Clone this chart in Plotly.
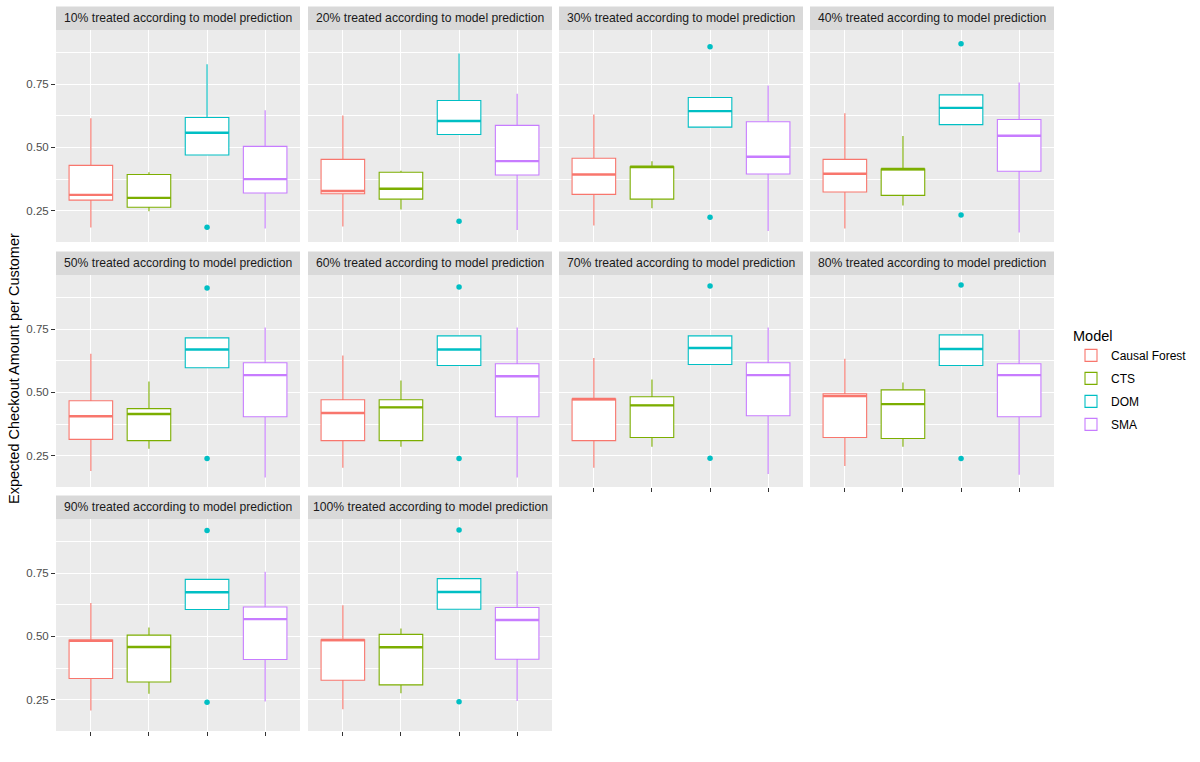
import plotly.graph_objects as go

# ---------------- data ----------------
panels = ["10%", "20%", "30%", "40%", "50%", "60%", "70%", "80%", "90%", "100%"]
models = ["Causal Forest", "CTS", "DOM", "SMA"]
colors = ["#F8766D", "#7CAE00", "#00BFC4", "#C77CFF"]

cf_q1 = [0.292, 0.317, 0.315, 0.324, 0.315, 0.310, 0.310, 0.322, 0.334, 0.327]
cf_med = [0.313, 0.328, 0.393, 0.396, 0.406, 0.419, 0.474, 0.486, 0.483, 0.486]
cf_q3 = [0.429, 0.453, 0.457, 0.453, 0.467, 0.471, 0.474, 0.495, 0.486, 0.487]
cf_lo = [0.184, 0.188, 0.192, 0.180, 0.190, 0.203, 0.203, 0.210, 0.208, 0.213]
cf_hi = [0.615, 0.626, 0.630, 0.635, 0.652, 0.646, 0.636, 0.633, 0.632, 0.623]

cts_q1 = [0.264, 0.296, 0.296, 0.311, 0.310, 0.310, 0.322, 0.318, 0.320, 0.309]
cts_med = [0.301, 0.337, 0.424, 0.415, 0.415, 0.441, 0.449, 0.454, 0.458, 0.457]
cts_q3 = [0.393, 0.402, 0.424, 0.415, 0.436, 0.471, 0.483, 0.510, 0.505, 0.508]
cts_lo = [0.248, 0.255, 0.260, 0.271, 0.278, 0.286, 0.286, 0.286, 0.274, 0.276]
cts_hi = [0.402, 0.408, 0.445, 0.545, 0.543, 0.547, 0.551, 0.539, 0.535, 0.531]

dom_q1 = [0.470, 0.551, 0.580, 0.590, 0.597, 0.606, 0.610, 0.606, 0.606, 0.607]
dom_med = [0.558, 0.604, 0.643, 0.656, 0.669, 0.669, 0.675, 0.671, 0.674, 0.675]
dom_q3 = [0.618, 0.685, 0.697, 0.707, 0.715, 0.723, 0.723, 0.727, 0.725, 0.728]
dom_lo = [0.470, 0.551, 0.580, 0.590, 0.597, 0.606, 0.610, 0.606, 0.606, 0.607]
dom_hi = [0.828, 0.870, 0.697, 0.707, 0.715, 0.723, 0.723, 0.727, 0.725, 0.728]
dom_out_low = [0.185, 0.209, 0.225, 0.233, 0.239, 0.239, 0.240, 0.239, 0.240, 0.242]
dom_out_high = [None, None, 0.897, 0.909, 0.912, 0.916, 0.920, 0.924, 0.918, 0.920]

sma_q1 = [0.320, 0.391, 0.395, 0.406, 0.404, 0.404, 0.408, 0.404, 0.409, 0.410]
sma_med = [0.375, 0.446, 0.463, 0.546, 0.568, 0.564, 0.568, 0.568, 0.568, 0.565]
sma_q3 = [0.504, 0.587, 0.601, 0.610, 0.617, 0.613, 0.617, 0.613, 0.616, 0.614]
sma_lo = [0.180, 0.174, 0.170, 0.164, 0.164, 0.164, 0.178, 0.175, 0.243, 0.245]
sma_hi = [0.647, 0.712, 0.744, 0.756, 0.756, 0.756, 0.756, 0.747, 0.755, 0.757]

stats = {
    "Causal Forest": (cf_q1, cf_med, cf_q3, cf_lo, cf_hi),
    "CTS": (cts_q1, cts_med, cts_q3, cts_lo, cts_hi),
    "DOM": (dom_q1, dom_med, dom_q3, dom_lo, dom_hi),
    "SMA": (sma_q1, sma_med, sma_q3, sma_lo, sma_hi),
}
outliers = {"DOM": [dom_out_low, dom_out_high]}

y_ticks = [0.25, 0.50, 0.75]
y_tick_text = ["0.25", "0.50", "0.75"]

# ---------------- layout geometry ----------------
W, H = 1200, 762
col_x0 = [56, 308, 559, 810]
panel_w = 244
row_top = [30, 275, 519]
panel_h = 212
strip_h = 23.5
BOX_W = 0.75

fig = go.Figure()
layout = dict(
    width=W, height=H,
    margin=dict(l=0, r=0, t=0, b=0),
    paper_bgcolor="white",
    plot_bgcolor="#EBEBEB",
    boxmode="overlay",
    font=dict(family="Liberation Sans, Arial, sans-serif", color="#1A1A1A"),
    showlegend=True,
    legend=dict(
        x=1071 / W, y=1 - 322 / H, xanchor="left", yanchor="top",
        title=dict(text="Model", font=dict(size=14.5, color="black")),
        font=dict(size=12, color="black"),
        tracegroupgap=4,
        bgcolor="rgba(0,0,0,0)",
    ),
)
shapes = []
annotations = []

for k, p in enumerate(panels):
    r, c = divmod(k, 4)
    xa = "x" if k == 0 else f"x{k+1}"
    ya = "y" if k == 0 else f"y{k+1}"
    xkey = "xaxis" if k == 0 else f"xaxis{k+1}"
    ykey = "yaxis" if k == 0 else f"yaxis{k+1}"
    x0 = col_x0[c]
    x1 = x0 + panel_w
    top = row_top[r]
    bot = top + panel_h
    show_xticks = (k + 4) >= len(panels)
    layout[xkey] = dict(
        domain=[x0 / W, x1 / W], anchor=ya,
        range=[0.4, 4.6], tickvals=[1, 2, 3, 4], ticktext=["", "", "", ""],
        showgrid=True, gridcolor="white", gridwidth=1.07, zeroline=False,
        ticks="outside" if show_xticks else "", ticklen=4, tickcolor="#333333", tickwidth=1,
        showline=False, fixedrange=True,
    )
    layout[ykey] = dict(
        domain=[1 - bot / H, 1 - top / H], anchor=xa,
        range=[0.127, 0.963], tickvals=y_ticks, ticktext=y_tick_text,
        showticklabels=(c == 0),
        tickfont=dict(size=11.5, color="#4D4D4D"),
        ticks="outside" if c == 0 else "", ticklen=4, tickcolor="#333333", tickwidth=1,
        showgrid=True, gridcolor="white", gridwidth=1.07, zeroline=False,
        minor=dict(tickvals=[0.375, 0.625, 0.875], showgrid=True, gridcolor="white", gridwidth=0.55, ticks=""),
        showline=False, fixedrange=True,
    )
    # strip
    shapes.append(dict(type="rect", xref="paper", yref="paper",
                       x0=x0 / W, x1=x1 / W, y0=1 - top / H, y1=1 - (top - strip_h) / H,
                       fillcolor="#D9D9D9", line=dict(width=0), layer="below"))
    annotations.append(dict(text=f"{p} treated according to model prediction",
                            xref="paper", yref="paper", x=(x0 + x1) / 2 / W,
                            y=1 - (top - strip_h / 2) / H, showarrow=False,
                            xanchor="center", yanchor="middle",
                            font=dict(size=12.2, color="#1A1A1A")))

    for m, (model, col) in enumerate(zip(models, colors)):
        q1, med, q3, lo, hi = stats[model]
        pos = m + 1
        fig.add_trace(go.Box(
            x=[pos], q1=[q1[k]], median=[med[k]], q3=[q3[k]],
            lowerfence=[lo[k]], upperfence=[hi[k]],
            width=BOX_W, whiskerwidth=0, boxpoints=False,
            fillcolor="white", line=dict(color=col, width=1.1),
            name=model, legendgroup=model, showlegend=(k == 0),
            xaxis=xa, yaxis=ya, hoverinfo="skip",
        ))
        # thicker median line (ggplot fatten)
        fig.add_trace(go.Scatter(
            x=[pos - BOX_W / 2, pos + BOX_W / 2], y=[med[k], med[k]],
            mode="lines", line=dict(color=col, width=2.4),
            showlegend=False, legendgroup=model, xaxis=xa, yaxis=ya, hoverinfo="skip",
        ))
        if model in outliers:
            ys = [lst[k] for lst in outliers[model] if lst[k] is not None]
            fig.add_trace(go.Scatter(
                x=[pos] * len(ys), y=ys, mode="markers",
                marker=dict(color=col, size=5.5),
                showlegend=False, legendgroup=model, xaxis=xa, yaxis=ya, hoverinfo="skip",
            ))

annotations.append(dict(text="Expected Checkout Amount per Customer",
                        xref="paper", yref="paper", x=14 / W, y=1 - 369 / H,
                        textangle=-90, showarrow=False, xanchor="center", yanchor="middle",
                        font=dict(size=14.5, color="black")))

layout["shapes"] = shapes
layout["annotations"] = annotations
fig.update_layout(**layout)
fig.write_html("out.html")
